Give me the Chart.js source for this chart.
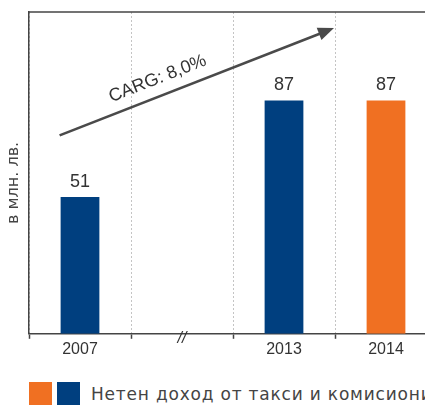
<!DOCTYPE html>
<html lang="bg">
<head>
<meta charset="UTF-8">
<title>Нетен доход от такси и комисиони</title>
<script src="https://cdn.jsdelivr.net/npm/chart.js@4.4.1/dist/chart.umd.min.js"></script>
<style>
    body {
        margin: 0;
        background: #fff;
        font-family: "Liberation Sans", Arial, sans-serif;
        width: 425px;
        height: 405px;
        overflow: hidden;
        position: relative;
    }
    /* the plot runs a little past the right edge, as in the source */
    #wrap {
        position: absolute;
        left: 0;
        top: 0;
        width: 437px;
        height: 365px;
    }
    #legend {
        position: absolute;
        left: 29px;
        top: 382px;
        width: 396px;
        height: 23px;
        white-space: nowrap;
        overflow: hidden;
        display: flex;
        align-items: center;
        color: #444;
        font-family: "DejaVu Sans", sans-serif;
        font-size: 17px;
        letter-spacing: 0.8px;
    }
    .box {
        flex: none;
        width: 23px;
        height: 23px;
        margin-right: 5px;
    }
    #legend span.txt { margin-left: 6px; }
</style>
</head>
<body>
<div id="wrap"><canvas id="chart"></canvas></div>
<div id="legend">
    <div class="box" style="background:#f07022"></div>
    <div class="box" style="background:#003f7f"></div>
    <span class="txt">Нетен доход от такси и комисиони</span>
</div>

<script>
const categories = ['2007', '//', '2013', '2014'];
const values = [51, null, 87, 87];
const yTitle = 'в млн. лв.';
const growthLabel = 'CARG: 8,0%';

const BLUE = '#003f7f';
const ORANGE = '#f07022';
const AXIS = '#444';

// growth arrow, in axis units (category index, value)
const arrowSpec = { x0: -0.2, y0: 74, x1: 2.49, y1: 114 };

const extras = {
    id: 'extras',
    afterDatasetsDraw(chart) {
        const { ctx, chartArea, scales } = chart;
        const x = scales.x, y = scales.y;
        ctx.save();

        // top frame line
        ctx.strokeStyle = AXIS;
        ctx.lineWidth = 1.5;
        ctx.beginPath();
        ctx.moveTo(chartArea.left, chartArea.top);
        ctx.lineTo(chartArea.right, chartArea.top);
        ctx.stroke();

        // y title, sits a bit below the middle of the axis in the source
        ctx.save();
        ctx.translate(chartArea.left - 15, (chartArea.top + chartArea.bottom) / 2 + 10);
        ctx.rotate(-Math.PI / 2);
        ctx.fillStyle = '#444';
        ctx.font = '16px "DejaVu Sans", sans-serif';
        ctx.textAlign = 'center';
        ctx.textBaseline = 'middle';
        ctx.fillText(yTitle, 0, 0);
        ctx.restore();

        // value labels
        ctx.fillStyle = '#333';
        ctx.font = '18px "Liberation Sans", Arial, sans-serif';
        ctx.textAlign = 'center';
        ctx.textBaseline = 'bottom';
        chart.getDatasetMeta(0).data.forEach((bar, i) => {
            if (values[i] == null) return;
            ctx.fillText(values[i], bar.x, bar.y - 6);
        });

        // axis break mark
        ctx.font = 'italic 16px "Liberation Sans", Arial, sans-serif';
        ctx.textBaseline = 'middle';
        ctx.fillText('//', x.getPixelForValue(1), chartArea.bottom + 5);

        // arrow
        const ax0 = x.getPixelForValue(arrowSpec.x0), ay0 = y.getPixelForValue(arrowSpec.y0);
        const ax1 = x.getPixelForValue(arrowSpec.x1), ay1 = y.getPixelForValue(arrowSpec.y1);
        const ang = Math.atan2(ay1 - ay0, ax1 - ax0);
        const head = 16, half = 6.5;
        ctx.strokeStyle = '#4a4a4a';
        ctx.fillStyle = '#4a4a4a';
        ctx.lineWidth = 2.6;
        ctx.beginPath();
        ctx.moveTo(ax0, ay0);
        ctx.lineTo(ax1 - Math.cos(ang) * (head - 2), ay1 - Math.sin(ang) * (head - 2));
        ctx.stroke();
        ctx.beginPath();
        ctx.moveTo(ax1, ay1);
        ctx.lineTo(ax1 - Math.cos(ang) * head + Math.sin(ang) * half, ay1 - Math.sin(ang) * head - Math.cos(ang) * half);
        ctx.lineTo(ax1 - Math.cos(ang) * head - Math.sin(ang) * half, ay1 - Math.sin(ang) * head + Math.cos(ang) * half);
        ctx.closePath();
        ctx.fill();

        // growth label along the arrow
        const t = 0.38;
        const mx = ax0 + (ax1 - ax0) * t, my = ay0 + (ay1 - ay0) * t;
        ctx.translate(mx + Math.sin(ang) * 17, my - Math.cos(ang) * 17);
        ctx.rotate(ang);
        ctx.fillStyle = '#333';
        ctx.font = '18px "Liberation Sans", Arial, sans-serif';
        ctx.textAlign = 'center';
        ctx.textBaseline = 'middle';
        ctx.fillText(growthLabel, 0, 0);
        ctx.restore();
    }
};

new Chart(document.getElementById('chart'), {
    type: 'bar',
    data: {
        labels: categories,
        datasets: [{
            data: values,
            backgroundColor: ctx => categories[ctx.dataIndex] === '2014' ? ORANGE : BLUE,
            categoryPercentage: 1,
            barPercentage: 0.38
        }]
    },
    options: {
        responsive: true,
        maintainAspectRatio: false,
        animation: false,
        layout: { padding: { top: 12, left: 29, right: 0, bottom: 5 } },
        plugins: {
            legend: { display: false },
            tooltip: { enabled: false }
        },
        scales: {
            x: {
                grid: {
                    offset: true,
                    color: '#c4c4c4',
                    lineWidth: 1,
                    tickLength: 5,
                    tickColor: AXIS,
                    tickWidth: 1.5
                },
                border: { color: AXIS, width: 1.5, dash: [2, 2] },
                ticks: {
                    color: '#333',
                    padding: 1,
                    font: { size: 16, family: '"Liberation Sans", Arial, sans-serif' },
                    callback: (v, i) => categories[i] === '//' ? '' : categories[i]
                }
            },
            y: {
                min: 0,
                max: 120,
                ticks: { display: false },
                grid: { display: false, drawTicks: false },
                border: { color: AXIS, width: 1.5 },
                title: { display: false }
            }
        }
    },
    plugins: [extras]
});
</script>
</body>
</html>
